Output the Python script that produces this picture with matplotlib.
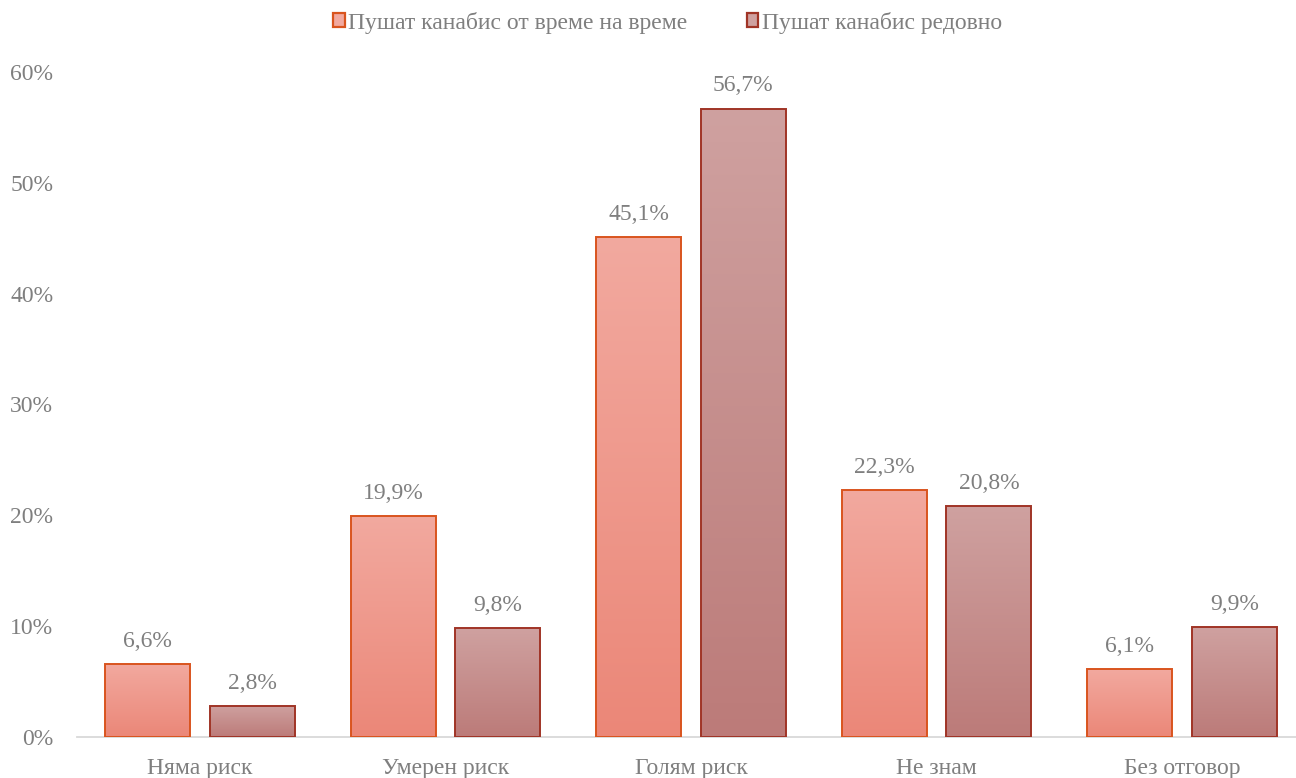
import numpy as np
import matplotlib.pyplot as plt
from matplotlib.colors import LinearSegmentedColormap
from matplotlib.patches import Patch

plt.rcParams['font.family'] = ['Liberation Serif', 'DejaVu Serif']

categories = ['Няма риск', 'Умерен риск', 'Голям риск', 'Не знам', 'Без отговор']
series_names = ['Пушат канабис от време на време', 'Пушат канабис редовно']
occasional = [6.6, 19.9, 45.1, 22.3, 6.1]
regular = [2.8, 9.8, 56.7, 20.8, 9.9]

# top colour, bottom colour, edge colour for each series
styles = [
    ('#F2A99F', '#EB8778', '#D9541E'),
    ('#CFA1A0', '#BC7B79', '#A03426'),
]
text_grey = '#7F7F7F'


def gradient_bars(ax, bars, top_color, bottom_color):
    cmap = LinearSegmentedColormap.from_list('g', [bottom_color, top_color])
    grad = np.linspace(0, 1, 256).reshape(-1, 1)
    for bar in bars:
        x0, y0 = bar.get_x(), bar.get_y()
        w, h = bar.get_width(), bar.get_height()
        im = ax.imshow(grad, cmap=cmap, origin='lower', aspect='auto',
                       extent=(x0, x0 + w, y0, y0 + h), zorder=bar.get_zorder() - 0.1)
        im.set_clip_path(bar)


fig = plt.figure(figsize=(12.96, 7.78), dpi=100)
# axes runs a bit past the right edge, like the original
ax = fig.add_axes([0.0594, 0.0527, 0.9475, 0.8548])

x = np.arange(len(categories))
width = 0.346
offset = 0.213

for k, (vals, (top_c, bot_c, edge_c)) in enumerate(zip([occasional, regular], styles)):
    pos = x + (-offset if k == 0 else offset)
    bars = ax.bar(pos, vals, width, facecolor='none', edgecolor=edge_c,
                  linewidth=1.4, zorder=3)
    gradient_bars(ax, bars, top_c, bot_c)
    for xp, v in zip(pos, vals):
        ax.text(xp, v + 1.1, f'{v:.1f}%'.replace('.', ','), ha='center', va='bottom',
                fontsize=17, color=text_grey)

ax.set_xlim(-0.5, len(categories) - 0.5)
ax.set_ylim(0, 60)
ax.set_yticks(np.arange(0, 61, 10))
ax.set_yticklabels([f'{t}%' for t in range(0, 61, 10)])
ax.set_xticks(x)
ax.set_xticklabels(categories)
ax.tick_params(length=0, labelsize=17, colors=text_grey)
ax.tick_params(axis='x', pad=15)
ax.tick_params(axis='y', pad=17)
for s in ['top', 'right', 'left']:
    ax.spines[s].set_visible(False)
ax.spines['bottom'].set_color('#D9D9D9')
ax.spines['bottom'].set_linewidth(1.3)

handles = [Patch(facecolor=top_c, edgecolor=edge_c, linewidth=1.6)
           for top_c, bot_c, edge_c in styles]
fig.legend(handles, series_names, loc='center', bbox_to_anchor=(0.515, 0.971), ncol=2,
           frameon=False, fontsize=17, labelcolor=text_grey, handlelength=0.5,
           handleheight=0.5, handletextpad=0.15, columnspacing=2.5)

fig.savefig('out.png', dpi=100)
